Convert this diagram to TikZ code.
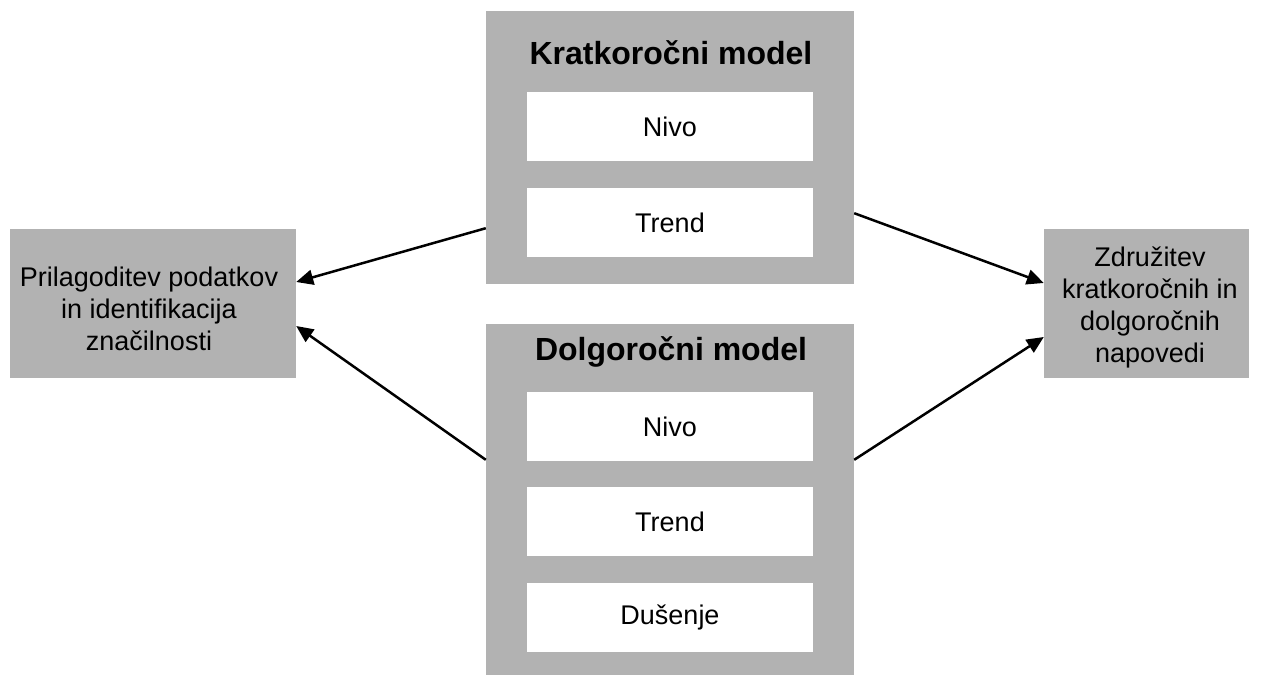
\documentclass[tikz,border=0pt]{standalone}
\usepackage{fontspec}
\setmainfont{Liberation Sans}
\usetikzlibrary{arrows.meta}
\definecolor{boxgray}{RGB}{178,178,178}
\begin{document}
\begin{tikzpicture}[x=1pt,y=-1pt,
  graybox/.style={rectangle,fill=boxgray,inner sep=0pt},
  boxtext/.style={inner sep=0pt,align=center,font=\fontsize{27}{32.3}\selectfont},
  whitebox/.style={rectangle,fill=white,inner sep=0pt,minimum width=286pt,minimum height=69pt,
    font=\fontsize{27}{32}\selectfont},
  titletext/.style={inner sep=0pt,font=\fontsize{32}{36}\selectfont\bfseries},
  conn/.style={line width=2.5pt,-{Triangle[length=17pt,width=15pt]}}]
\useasboundingbox (0,0) rectangle (1262,675);
% outer boxes
\node[graybox,minimum width=286pt,minimum height=149pt] (left) at (153,303.5) {};
\node[boxtext] (lefttext) at (149,309) {Prilagoditev podatkov\\in identifikacija\\značilnosti};
\node[graybox,minimum width=205pt,minimum height=149pt] (right) at (1146.5,303.5) {};
\node[boxtext] (righttext) at (1150,307.5) {Združitev\\kratkoročnih in\\dolgoročnih\\napovedi};
\node[graybox,minimum width=368pt,minimum height=273pt] (top) at (670,147.5) {};
\node[graybox,minimum width=368pt,minimum height=354pt] (bottom) at (670,501) {};
% titles
\node[titletext] (toptitle) at (671,53) {Kratkoročni model};
\node[titletext] (bottomtitle) at (671,352) {Dolgoročni model};
% inner boxes
\node[whitebox] (tnivo) at (670,126.5) {Nivo};
\node[whitebox] (ttrend) at (670,222.5) {Trend};
\node[whitebox] (bnivo) at (670,426.5) {Nivo};
\node[whitebox] (btrend) at (670,521.5) {Trend};
\node[whitebox] (bdus) at (670,617.5) {Dušenje};
% connectors
\draw[conn] ([yshift=56pt]top.south west) -- ([yshift=21.5pt]left.east);
\draw[conn] ([yshift=-136pt]bottom.north west) -- ([yshift=-22.5pt]left.east);
\draw[conn] ([yshift=71pt]top.south east) -- ([yshift=20.5pt]right.west);
\draw[conn] ([yshift=-136pt]bottom.north east) -- ([yshift=-33.5pt]right.west);
\end{tikzpicture}
\end{document}
